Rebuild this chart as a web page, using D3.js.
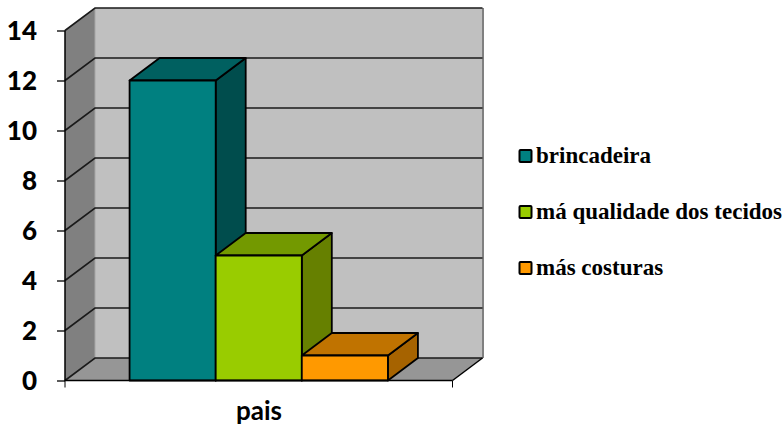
<!DOCTYPE html>
<html>
<head>
<meta charset="utf-8">
<script src="https://cdn.jsdelivr.net/npm/d3@7"></script>
<style>
  html, body { margin: 0; padding: 0; background: #fff; }
  svg { display: block; }
  .tick-label { font-family: "Lato", sans-serif; font-weight: 900; font-size: 26px; fill: #000; }
  .cat-label { font-family: "Lato", sans-serif; font-weight: 700; font-size: 26px; fill: #000; }
  .legend-label { font-family: "Liberation Serif", serif; font-weight: 700; font-size: 23px; fill: #000; }
</style>
</head>
<body>
<div id="chart"></div>
<script>
// data
var category = "pais";
var seriesNames = ["brincadeira", "má qualidade dos tecidos", "más costuras"];
var seriesValues = [12, 5, 1];
var yTicks = [0, 2, 4, 6, 8, 10, 12, 14];

var frontColors = ["#008080", "#99cc00", "#ff9900"];
var topColors = ["#006060", "#739900", "#c07300"];
var sideColors = ["#004d4d", "#668000", "#a66300"];

var width = 784, height = 425;
var depthX = 30, depthY = -22.5;

var svg = d3.select("#chart").append("svg")
    .attr("width", width)
    .attr("height", height);

var y = d3.scaleLinear().domain([0, 14]).range([380.5, 30.5]);
var x = d3.scaleBand().domain(seriesNames).range([65, 452.5])
    .paddingInner(0).paddingOuter(0.75);

var left = x.range()[0], right = x.range()[1];

function poly(points) {
    return "M" + points.map(function(p) { return p.join(","); }).join("L") + "Z";
}

// walls and floor
var y0 = y(0), yMax = y(14);
svg.append("path")
    .attr("d", poly([[left + depthX, y0 + depthY], [right + depthX, y0 + depthY], [right + depthX, yMax + depthY], [left + depthX, yMax + depthY]]))
    .attr("fill", "#c0c0c0");
svg.append("path")
    .attr("d", "M" + (right + depthX + 0.5) + "," + (yMax + depthY) + "V" + (y0 + depthY))
    .attr("stroke", "#808080").attr("stroke-width", 2);
svg.append("path")
    .attr("d", poly([[left, y0], [left + depthX, y0 + depthY], [left + depthX, yMax + depthY], [left, yMax]]))
    .attr("fill", "#808080");
svg.append("path")
    .attr("d", "M" + (left + depthX) + "," + (yMax + depthY) + "V" + (y0 + depthY))
    .attr("stroke", "#a6a6a6").attr("stroke-width", 1);
svg.append("path")
    .attr("d", poly([[left, y0], [right, y0], [right + depthX, y0 + depthY], [left + depthX, y0 + depthY]]))
    .attr("fill", "#969696");

// gridlines, running along the side wall then the back wall
svg.append("g").selectAll("path")
    .data(yTicks)
    .enter().append("path")
    .attr("d", function(d) {
        return "M" + left + "," + y(d) + "L" + (left + depthX) + "," + (y(d) + depthY) + "H" + (right + depthX);
    })
    .attr("fill", "none")
    .attr("stroke", "#1a1a1a")
    .attr("stroke-width", 1.6);

// far edge of the floor
svg.append("path")
    .attr("d", "M" + right + "," + y0 + "L" + (right + depthX) + "," + (y0 + depthY))
    .attr("stroke", "#000").attr("stroke-width", 1.5);

// bars
var bars = svg.append("g").selectAll("g")
    .data(seriesNames)
    .enter().append("g");

function barX(d) { return x(d); }
function barTop(d, i) { return y(seriesValues[i]); }

bars.append("path")
    .attr("d", function(d, i) {
        var x1 = barX(d) + x.bandwidth(), t = barTop(d, i);
        return poly([[x1, t], [x1 + depthX, t + depthY], [x1 + depthX, y0 + depthY], [x1, y0]]);
    })
    .attr("fill", function(d, i) { return sideColors[i]; });
bars.append("path")
    .attr("d", function(d, i) {
        var x0 = barX(d), x1 = x0 + x.bandwidth(), t = barTop(d, i);
        return poly([[x0, t], [x1, t], [x1 + depthX, t + depthY], [x0 + depthX, t + depthY]]);
    })
    .attr("fill", function(d, i) { return topColors[i]; });
bars.append("rect")
    .attr("x", barX)
    .attr("y", barTop)
    .attr("width", x.bandwidth())
    .attr("height", function(d, i) { return y0 - barTop(d, i); })
    .attr("fill", function(d, i) { return frontColors[i]; });
bars.selectAll("path, rect")
    .attr("stroke", "#000")
    .attr("stroke-width", 1.8)
    .attr("stroke-linejoin", "round");

// front axis lines
svg.append("path")
    .attr("d", "M" + left + "," + yMax + "V" + y0 + "H" + right)
    .attr("fill", "none").attr("stroke", "#000").attr("stroke-width", 1.5);

// axes, drawn on top of the walls
var yAxis = d3.axisLeft(y).tickValues(yTicks).tickSize(8).tickPadding(20).tickSizeOuter(0);
var gy = svg.append("g").attr("transform", "translate(" + left + ",0)").call(yAxis);
gy.select(".domain").remove();
gy.selectAll(".tick line").attr("stroke", "#000").attr("stroke-width", 1.3);
gy.selectAll(".tick text").attr("class", "tick-label").attr("dy", "0.35em");

svg.append("path")
    .attr("d", "M" + left + "," + y0 + "v7M" + right + "," + y0 + "v7")
    .attr("stroke", "#000").attr("stroke-width", 1);

svg.append("text")
    .attr("class", "cat-label")
    .attr("x", 259)
    .attr("y", 419.5)
    .attr("text-anchor", "middle")
    .text(category);

// legend
var legendY = d3.scalePoint().domain(seriesNames).range([156, 268]);
var legend = svg.append("g").selectAll("g")
    .data(seriesNames)
    .enter().append("g")
    .attr("transform", function(d) { return "translate(519," + legendY(d) + ")"; });
legend.append("rect")
    .attr("x", 0.5).attr("y", -6).attr("width", 12).attr("height", 12)
    .attr("rx", 1)
    .attr("fill", function(d, i) { return frontColors[i]; })
    .attr("stroke", "#000").attr("stroke-width", 2);
legend.append("text")
    .attr("class", "legend-label")
    .attr("x", 17)
    .attr("y", 7)
    .text(function(d) { return d; });
</script>
</body>
</html>
